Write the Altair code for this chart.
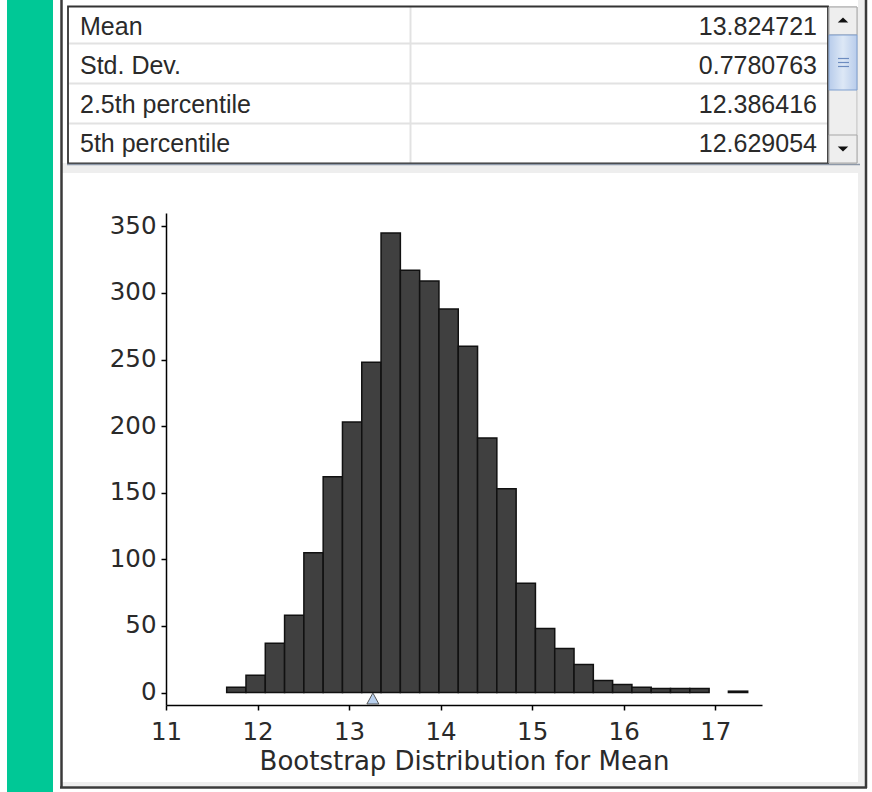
import altair as alt
import pandas as pd

# ---------------- data ----------------
stat_names = ["Mean", "Std. Dev.", "2.5th percentile", "5th percentile"]
stat_values = ["13.824721", "0.7780763", "12.386416", "12.629054"]

counts = [4, 13, 37, 58, 105, 162, 203, 248, 345, 317, 309, 288, 260, 191,
          153, 82, 48, 33, 21, 9, 6, 4, 3, 3, 3, 0, 1]
bin_start = 11.663
bin_width = 0.2108
marker_value = [13.26]

x_ticks = [11, 12, 13, 14, 15, 16, 17]
y_ticks = [0, 50, 100, 150, 200, 250, 300, 350]

hist = pd.DataFrame({
    "lo": [bin_start + i * bin_width for i in range(len(counts))],
    "hi": [bin_start + (i + 1) * bin_width for i in range(len(counts))],
    "count": counts,
})
marker = pd.DataFrame({"v": marker_value})
table = pd.DataFrame({"stat": stat_names, "val": stat_values})
one = pd.DataFrame({"k": [0]})

# ---------------- layout (plot area origin) ----------------
W, H = 872, 792
OX, OY = 166, 213
PW, PH = 596, 492

def rect(x1, y1, x2, y2, fill, stroke=None, sw=0):
    kw = dict(fill=fill)
    if stroke is not None:
        kw.update(stroke=stroke, strokeWidth=sw)
    else:
        kw.update(strokeWidth=0)
    return alt.Chart(one).mark_rect(**kw).encode(
        x=alt.value(x1 - OX), x2=alt.value(x2 - OX),
        y=alt.value(y1 - OY), y2=alt.value(y2 - OY))

def hline(x1, x2, y, color, w=1):
    return alt.Chart(one).mark_rule(color=color, strokeWidth=w).encode(
        x=alt.value(x1 - OX), x2=alt.value(x2 - OX), y=alt.value(y - OY))

def vline(x, y1, y2, color, w=1):
    return alt.Chart(one).mark_rule(color=color, strokeWidth=w).encode(
        x=alt.value(x - OX), y=alt.value(y1 - OY), y2=alt.value(y2 - OY))

def arrow(x, y, path, color="#111"):
    return alt.Chart(one).mark_point(shape=path, filled=True, fill=color,
                                     strokeWidth=0, size=110, opacity=1).encode(
        x=alt.value(x - OX), y=alt.value(y - OY))

green = "#00c896"
chrome = [
    rect(7, 0, 53, 792, green),
    # panel light inner areas
    rect(62, 163, 865, 173, "#eeeeee"),
    rect(858, 0, 865, 786, "#eeeeee"),
    rect(62, 782, 865, 786, "#eeeeee"),
    # panel borders
    vline(61.5, 0, 788, "#3a3a3a", 2.5),
    vline(866, 0, 788, "#3a3a3a", 2.5),
    hline(60, 867, 787.5, "#3a3a3a", 2.5),
    # table
    rect(68, 7, 828, 163, "#ffffff"),
    hline(69, 828, 43.5, "#e2e2e2", 2),
    hline(69, 828, 83.5, "#e2e2e2", 2),
    hline(69, 828, 123.5, "#e2e2e2", 2),
    vline(410.5, 7, 163, "#e2e2e2", 2),
    rect(68, 6.5, 828, 163.5, "transparent", "#333333", 1.8),
    hline(67, 860, 164.5, "#8d98a8", 1.5),
    # scrollbar
    rect(829, 7, 857, 163, "#eeeeee", "#b8b8b8", 1),
    rect(829, 7, 857, 35, "#eeeeee", "#a6a6a6", 1),
    rect(829, 135, 857, 163, "#eeeeee", "#a6a6a6", 1),
    alt.Chart(one).mark_rect(
        fill=alt.Gradient(gradient="linear", x1=0, x2=1, y1=0, y2=0,
                          stops=[alt.GradientStop(color="#b8cceb", offset=0),
                                 alt.GradientStop(color="#dde8f6", offset=0.5),
                                 alt.GradientStop(color="#b8cceb", offset=1)]),
        stroke="#7f9fcf", strokeWidth=1).encode(
        x=alt.value(829 - OX), x2=alt.value(857 - OX),
        y=alt.value(35 - OY), y2=alt.value(90 - OY)),
    hline(838, 849, 58.5, "#6d8cc0", 1.2),
    hline(838, 849, 62.5, "#6d8cc0", 1.2),
    hline(838, 849, 66.5, "#6d8cc0", 1.2),
    arrow(843, 20, "M-1,0.5L1,0.5L0,-0.5Z"),
    arrow(843, 149, "M-1,-0.5L1,-0.5L0,0.5Z"),
]

row_scale = alt.Scale(type="band", domain=stat_names,
                      range=[7 - OY, 163 - OY],
                      paddingInner=0, paddingOuter=0)

label_layer = alt.Chart(table).mark_text(
    align="left", baseline="middle", font="Liberation Sans", fontSize=25,
    color="#2a2a2a").encode(
    x=alt.value(80 - OX),
    y=alt.Y("stat:N", sort=stat_names, axis=None, scale=row_scale),
    text="stat:N")

value_layer = alt.Chart(table).mark_text(
    align="right", baseline="middle", font="Liberation Sans", fontSize=25,
    color="#2a2a2a").encode(
    x=alt.value(817 - OX),
    y=alt.Y("stat:N", sort=stat_names, axis=None, scale=row_scale),
    text="val:N")

xscale = alt.Scale(domain=[11, 11 + PW / 91.54], nice=False, zero=False)
yscale = alt.Scale(domain=[-9.38, 360.0], nice=False, zero=False)

bars = alt.Chart(hist).transform_filter("datum.count > 0").mark_rect(
    fill="#404040", stroke="#111111", strokeWidth=1.5).encode(
    x=alt.X("lo:Q", scale=xscale,
            axis=alt.Axis(values=x_ticks, format="d",
                          title="Bootstrap Distribution for Mean",
                          tickSize=5, labelPadding=10, titlePadding=5,
                          labelFlush=False, titleFontSize=26)),
    x2="hi:Q",
    y=alt.Y("count:Q", scale=yscale,
            axis=alt.Axis(values=y_ticks, format="d", title=None,
                          tickSize=5, labelPadding=5, labelFlush=False)),
    y2=alt.datum(0),
)

tri = alt.Chart(marker).mark_point(
    shape="M0,-0.55L0.6,0.55L-0.6,0.55Z", filled=True, fill="#b8d0ee",
    stroke="#555555", strokeWidth=1, size=400, opacity=1).encode(
    x=alt.X("v:Q", scale=xscale),
    y=alt.value(705 - OY - 6.5),
)

chart = alt.layer(*chrome, label_layer, value_layer, bars, tri).resolve_scale(
    y="independent"
).properties(
    width=PW, height=PH,
    autosize=alt.AutoSizeParams(type="none"),
    padding={"left": OX, "top": OY, "right": W - OX - PW, "bottom": H - OY - PH},
    background="white",
).configure_view(stroke="transparent").configure_axis(
    domainColor="#000000", domainWidth=1.5, tickColor="#000000", tickWidth=1.5,
    grid=False, labelFont="DejaVu Sans", labelFontSize=24.5, labelColor="#2a2a2a",
    titleFont="DejaVu Sans", titleFontSize=26, titleFontWeight="normal",
    titleColor="#2a2a2a",
)

chart.save("out.html", embed_options={"renderer": "svg", "actions": False})
